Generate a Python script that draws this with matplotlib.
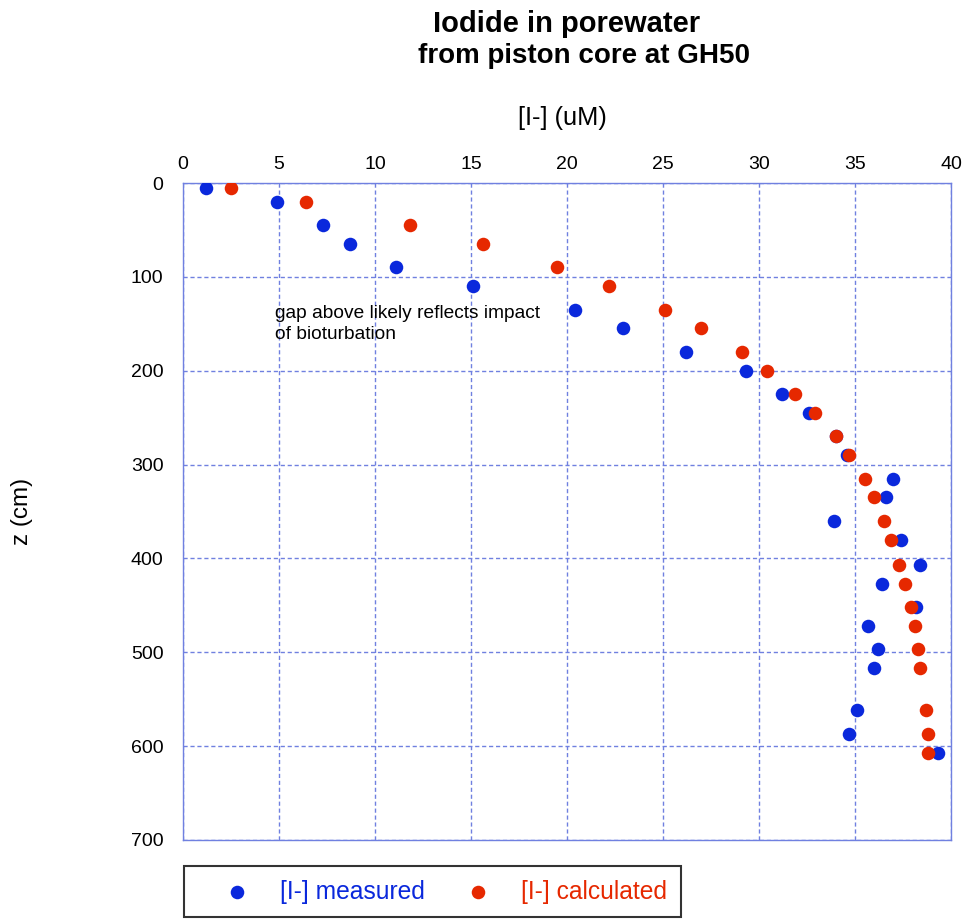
import matplotlib
matplotlib.use("Agg")
import matplotlib.pyplot as plt

plt.rcParams['font.family'] = ['Liberation Sans', 'DejaVu Sans']

# depth below seafloor (cm) and iodide concentrations (uM)
depth = [5, 20, 45, 65, 90, 110, 135, 155, 180, 200, 225, 245, 270, 290,
         315, 335, 360, 380, 407, 427, 452, 472, 497, 517, 562, 587, 607]
iodide_measured = [1.2, 4.9, 7.3, 8.7, 11.1, 15.1, 20.4, 22.9, 26.2, 29.3,
                   31.2, 32.6, 34.0, 34.6, 37.0, 36.6, 33.9, 37.4, 38.4,
                   36.4, 38.2, 35.7, 36.2, 36.0, 35.1, 34.7, 39.3]
iodide_calculated = [2.5, 6.4, 11.8, 15.6, 19.5, 22.2, 25.1, 27.0, 29.1, 30.4,
                     31.9, 32.9, 34.0, 34.7, 35.5, 36.0, 36.5, 36.9, 37.3,
                     37.6, 37.9, 38.1, 38.3, 38.4, 38.7, 38.8, 38.8]

x_ticks = [0, 5, 10, 15, 20, 25, 30, 35, 40]
y_ticks = [0, 100, 200, 300, 400, 500, 600, 700]

blue = '#0a28dc'
red = '#e62800'
grid_col = '#7080e0'

fig = plt.figure(figsize=(9.66, 9.19), dpi=100)
ax = fig.add_axes([183 / 966, 1 - 840 / 919, 768 / 966, 657 / 919])

ax.scatter(iodide_measured, depth, s=95, color=blue, zorder=3, linewidths=0,
           label='[I-] measured')
ax.scatter(iodide_calculated, depth, s=95, color=red, zorder=4, linewidths=0,
           label='[I-] calculated')

ax.set_xlim(0, 40)
ax.set_ylim(700, 0)
ax.set_xticks(x_ticks)
ax.set_yticks(y_ticks)
ax.xaxis.tick_top()
ax.xaxis.set_label_position('top')
ax.tick_params(axis='both', labelsize=14, length=0)
ax.tick_params(axis='x', pad=7)
ax.tick_params(axis='y', pad=14)
ax.grid(True, color=grid_col, linestyle=(0, (3, 2)), linewidth=1)
for sp in ax.spines.values():
    sp.set_color(grid_col)
    sp.set_linewidth(1)

ax.set_xlabel('[I-] (uM)', fontsize=18.3)
ax.xaxis.set_label_coords((562 - 183) / 768, (840 - 125) / 657)
ax.set_ylabel('z (cm)', fontsize=17.5)
ax.yaxis.set_label_coords((33 - 183) / 768, 0.5)

ax.text(4.8, 130, 'gap above likely reflects impact\nof bioturbation',
        fontsize=13.8, va='top', ha='left', linespacing=1.3)

# two-line bold title
fig.text(567 / 966, 1 - 32 / 919, 'Iodide in porewater', ha='center',
         va='baseline', fontsize=21, fontweight='bold')
fig.text(584 / 966, 1 - 63 / 919, 'from piston core at GH50', ha='center',
         va='baseline', fontsize=20, fontweight='bold')

leg = fig.legend(loc='upper left', bbox_to_anchor=(184 / 966, 1 - 866 / 919),
                 ncol=2, fontsize=17.7, frameon=True, fancybox=False,
                 edgecolor='black', handlelength=3.2, handletextpad=0.16,
                 columnspacing=0.56, borderpad=0.55, borderaxespad=0,
                 labelcolor='markerfacecolor', markerscale=1.0)
leg.get_frame().set_linewidth(1.5)

fig.savefig('out.png', dpi=100)
